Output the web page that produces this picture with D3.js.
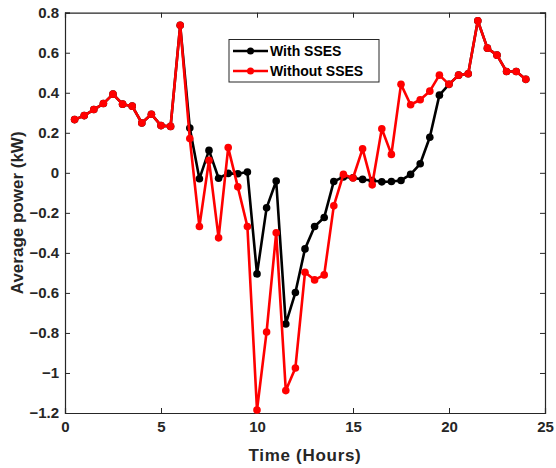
<!DOCTYPE html>
<html>
<head>
<meta charset="utf-8">
<script src="https://cdn.jsdelivr.net/npm/d3@7"></script>
<style>
  body { margin: 0; background: #fff; }
  svg text { font-family: "Liberation Sans", Arial, sans-serif; font-weight: bold; fill: #262626; }
</style>
</head>
<body>
<div id="container"></div>
<script>
//---------- DATA ----------//
const hours = [0.5, 1, 1.5, 2, 2.5, 3, 3.5, 4, 4.5, 5, 5.5, 6, 6.5, 7, 7.5, 8, 8.5, 9, 9.5, 10,
  10.5, 11, 11.5, 12, 12.5, 13, 13.5, 14, 14.5, 15, 15.5, 16, 16.5, 17, 17.5, 18, 18.5, 19, 19.5, 20,
  20.5, 21, 21.5, 22, 22.5, 23, 23.5, 24];

const withSSES = [0.266, 0.286, 0.316, 0.346, 0.393, 0.343, 0.333, 0.249, 0.293, 0.236, 0.232, 0.737,
  0.224, -0.03, 0.112, -0.027, -0.003, -0.005, 0.004, -0.505,
  -0.175, -0.041, -0.755, -0.598, -0.38, -0.268, -0.223, -0.043, -0.021, -0.025,
  -0.033, -0.038, -0.045, -0.043, -0.038, -0.008, 0.045, 0.178, 0.388, 0.442,
  0.488, 0.495, 0.76, 0.623, 0.588, 0.506, 0.506, 0.467];

const withoutSSES = [0.266, 0.286, 0.316, 0.346, 0.393, 0.343, 0.333, 0.249, 0.293, 0.236, 0.232, 0.737,
  0.171, -0.268, 0.062, -0.325, 0.126, -0.07, -0.268, -1.185,
  -0.795, -0.30, -1.088, -0.975, -0.497, -0.535, -0.51, -0.165, -0.008, -0.026,
  0.12, -0.06, 0.22, 0.092, 0.442, 0.34, 0.365, 0.408, 0.488, 0.442,
  0.488, 0.495, 0.76, 0.623, 0.588, 0.506, 0.506, 0.467];

const xTicks = [0, 5, 10, 15, 20, 25];
const yTicks = [0.8, 0.6, 0.4, 0.2, 0, -0.2, -0.4, -0.6, -0.8, -1, -1.2];

const seriesNames = ["With SSES", "Without SSES"];
const seriesColors = ["#000000", "#ff0000"];

//---------- SVG ----------//
const width = 556;
const height = 468;
const plot = { left: 65, right: 545, top: 12.7, bottom: 413 };

const svg = d3.select("div#container")
  .append("svg")
  .attr("width", width)
  .attr("height", height);

//---------- SCALES ----------//
const xScale = d3.scaleLinear().domain([0, 25]).range([plot.left, plot.right]);
const yScale = d3.scaleLinear().domain([-1.2, 0.8]).range([plot.bottom, plot.top]);

//---------- AXES ----------//
const tickLen = 5;
const axisColor = "#262626";

const xAxis = d3.axisBottom(xScale).tickValues(xTicks).tickSize(-tickLen).tickPadding(8).tickFormat(d3.format("d"));
const yAxis = d3.axisLeft(yScale).tickValues(yTicks).tickSize(-tickLen).tickPadding(6).tickFormat(d => d === 0 ? "0" : d3.format("")(+d.toFixed(1)));

const gx = svg.append("g")
  .attr("transform", `translate(0,${plot.bottom})`)
  .call(xAxis);
const gy = svg.append("g")
  .attr("transform", `translate(${plot.left},0)`)
  .call(yAxis);

// top and right ticks (box)
svg.append("g")
  .attr("transform", `translate(0,${plot.top})`)
  .call(d3.axisTop(xScale).tickValues(xTicks).tickSize(-tickLen).tickFormat(""));
svg.append("g")
  .attr("transform", `translate(${plot.right},0)`)
  .call(d3.axisRight(yScale).tickValues(yTicks).tickSize(-tickLen).tickFormat(""));

svg.selectAll(".domain").attr("stroke", axisColor).attr("stroke-width", 1.2);
svg.selectAll(".tick line").attr("stroke", axisColor).attr("stroke-width", 1);
gx.selectAll("text").style("font-size", "15px");
gy.selectAll("text").style("font-size", "15px");

//---------- LABELS ----------//
svg.append("text")
  .attr("x", (plot.left + plot.right) / 2)
  .attr("y", 461)
  .attr("text-anchor", "middle")
  .style("font-size", "17px")
  .style("letter-spacing", "0.7px")
  .text("Time (Hours)");

svg.append("text")
  .attr("transform", `translate(23,${(plot.top + plot.bottom) / 2}) rotate(-90)`)
  .attr("text-anchor", "middle")
  .style("font-size", "17px")
  .text("Average power (kW)");

//---------- LINES ----------//
const allSeries = [withSSES, withoutSSES];
const line = d3.line()
  .x((d, i) => xScale(hours[i]))
  .y(d => yScale(d));

allSeries.forEach((vals, k) => {
  const g = svg.append("g");
  g.append("path")
    .datum(vals)
    .attr("d", line)
    .attr("fill", "none")
    .attr("stroke", seriesColors[k])
    .attr("stroke-width", 2.6)
    .attr("stroke-linejoin", "round");
  g.selectAll("circle")
    .data(vals)
    .join("circle")
    .attr("cx", (d, i) => xScale(hours[i]))
    .attr("cy", d => yScale(d))
    .attr("r", 3.8)
    .attr("fill", seriesColors[k]);
});

//---------- LEGEND ----------//
const legend = svg.append("g");
legend.append("rect")
  .attr("x", 229).attr("y", 39.5)
  .attr("width", 150).attr("height", 42.5)
  .attr("fill", "#fff")
  .attr("stroke", axisColor)
  .attr("stroke-width", 1);

seriesNames.forEach((name, k) => {
  const yRow = 51 + k * 20;
  legend.append("line")
    .attr("x1", 233).attr("x2", 268)
    .attr("y1", yRow).attr("y2", yRow)
    .attr("stroke", seriesColors[k])
    .attr("stroke-width", 2.6);
  legend.append("circle")
    .attr("cx", 250.5).attr("cy", yRow)
    .attr("r", 3.5)
    .attr("fill", seriesColors[k]);
  legend.append("text")
    .attr("x", 270).attr("y", yRow + 5)
    .style("font-size", "14px")
    .style("fill", "#000")
    .text(name);
});
</script>
</body>
</html>
